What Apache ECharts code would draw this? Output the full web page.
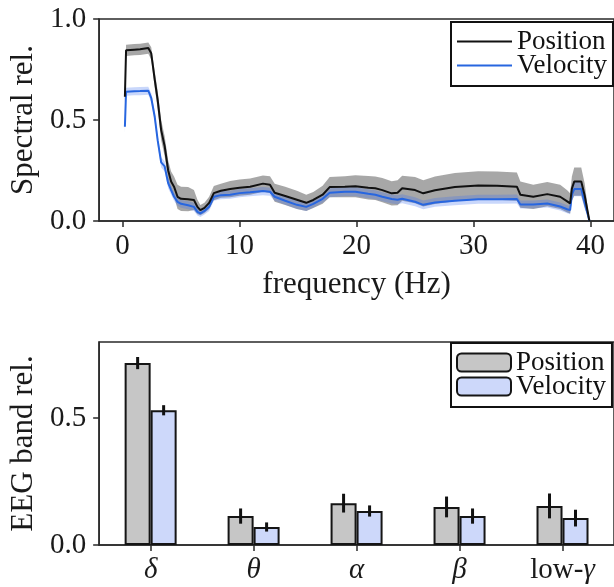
<!DOCTYPE html>
<html><head><meta charset="utf-8">
<script src="https://cdn.jsdelivr.net/npm/echarts@6/dist/echarts.min.js"></script>
<style>html,body{margin:0;padding:0;background:#fff}#c{width:614px;height:587px}</style>
</head><body><div id="c"></div>
<script>
// ---- Top panel: spectral relevance ----
const freq = [0.2,0.3,1.0,1.5,2.2,2.45,2.75,3.0,3.3,3.6,3.9,4.15,4.4,4.7,5.0,5.6,6.1,6.4,6.65,7.0,7.4,7.8,8.4,9.2,10.0,10.9,12.0,12.6,13.0,13.9,14.9,15.7,16.3,17.1,17.7,19.0,19.9,21.0,21.6,22.2,23.0,23.5,23.9,25.0,25.7,26.7,28.4,30.4,32.0,33.7,34.0,35.1,36.3,37.4,38.0,38.25,38.4,38.6,39.2,39.5,39.9];
const posMean = [0.615,0.845,0.848,0.85,0.856,0.83,0.70,0.60,0.45,0.37,0.25,0.195,0.17,0.12,0.11,0.108,0.104,0.07,0.054,0.065,0.09,0.138,0.15,0.158,0.165,0.17,0.185,0.18,0.14,0.124,0.105,0.09,0.104,0.13,0.168,0.17,0.172,0.165,0.162,0.153,0.137,0.14,0.162,0.153,0.137,0.152,0.168,0.176,0.175,0.17,0.13,0.12,0.133,0.12,0.097,0.087,0.16,0.195,0.195,0.125,0.0];
const posErr = [0.03,0.028,0.028,0.028,0.028,0.03,0.04,0.045,0.05,0.05,0.05,0.05,0.05,0.06,0.06,0.06,0.05,0.035,0.025,0.025,0.03,0.035,0.035,0.04,0.04,0.04,0.04,0.042,0.045,0.045,0.045,0.04,0.04,0.045,0.05,0.052,0.055,0.058,0.058,0.06,0.06,0.062,0.062,0.065,0.065,0.068,0.07,0.07,0.07,0.07,0.065,0.06,0.06,0.06,0.055,0.05,0.06,0.07,0.07,0.06,0.0];
const velMean = [0.467,0.64,0.642,0.643,0.645,0.61,0.516,0.40,0.29,0.27,0.187,0.153,0.12,0.095,0.085,0.078,0.07,0.045,0.038,0.05,0.07,0.12,0.128,0.13,0.138,0.142,0.148,0.145,0.12,0.10,0.08,0.07,0.085,0.11,0.14,0.145,0.145,0.135,0.13,0.12,0.109,0.105,0.11,0.095,0.08,0.092,0.10,0.108,0.108,0.109,0.082,0.082,0.087,0.072,0.058,0.054,0.13,0.158,0.158,0.09,0.0];
const velErr = [0.03,0.02,0.02,0.02,0.02,0.022,0.025,0.025,0.025,0.025,0.025,0.022,0.02,0.02,0.02,0.02,0.02,0.018,0.018,0.018,0.02,0.02,0.02,0.02,0.02,0.02,0.02,0.02,0.02,0.02,0.02,0.02,0.02,0.02,0.022,0.022,0.022,0.022,0.022,0.022,0.022,0.022,0.022,0.022,0.022,0.022,0.022,0.022,0.022,0.022,0.02,0.02,0.02,0.02,0.02,0.02,0.03,0.035,0.035,0.03,0.0];
const freqTicks = [0,10,20,30,40];
const specTicks = [0,0.5,1.0];

// ---- Bottom panel: EEG band relevance ----
const bands = ['δ','θ','α','β','low-γ'];
const bandPos = [0.717,0.114,0.165,0.15,0.154];
const bandPosErr = [0.024,0.03,0.037,0.041,0.049];
const bandVel = [0.531,0.071,0.134,0.114,0.106];
const bandVelErr = [0.02,0.018,0.022,0.03,0.033];
const bandTicks = [0,0.5];

const FONT = 'Liberation Serif';
const FS = 29;
const AX = '#2a2a2a';
const BAR_W = 26;

const chart = echarts.init(document.getElementById('c'), null, {renderer:'canvas'});

function bandSeries(mean, err, color, z) {
  return {
    type:'custom', xAxisIndex:0, yAxisIndex:0, silent:true, z:z, clip:true,
    data:[[freq[0], mean[0]]],
    renderItem(params, api){
      const up=[], lo=[];
      for (let i=0;i<freq.length;i++){
        up.push(api.coord([freq[i], mean[i]+err[i]]));
        lo.push(api.coord([freq[i], Math.max(0, mean[i]-err[i])]));
      }
      return {type:'polygon', shape:{points: up.concat(lo.reverse())}, style:{fill:color}};
    }
  };
}
function errSeries(vals, errs, side) {
  return {
    type:'custom', xAxisIndex:1, yAxisIndex:1, z:6, silent:true,
    data: vals.map((v,i)=>[i, v, errs[i]]),
    renderItem(params, api){
      const i=api.value(0), v=api.value(1), e=api.value(2);
      const off = side*BAR_W/2;
      const t = api.coord([i, v+e]), b = api.coord([i, v-e]);
      return {type:'line', shape:{x1:t[0]+off, y1:t[1], x2:t[0]+off, y2:b[1]}, style:{stroke:'#111', lineWidth:3}};
    }
  };
}
const txt = {fontFamily:FONT, fontSize:FS, color:'#1a1a1a'};
const axLine = {show:true, onZero:false, lineStyle:{color:AX, width:1.5}};
const axTick = {show:true, length:6, lineStyle:{color:AX, width:1.5}};

const option = {
  backgroundColor:'#fff',
  animation:false,
  grid:[
    {left:97, top:19, width:520, height:202, show:true, borderColor:AX, borderWidth:1.5, backgroundColor:'transparent'},
    {left:97, top:342, width:522, height:203, show:true, borderColor:AX, borderWidth:1.5, backgroundColor:'transparent'}
  ],
  legend:[
    {data:['Position','Velocity'], orient:'vertical', left:451, top:22, padding:[6,6,7,5],
     itemWidth:55, itemHeight:18, itemGap:-3, borderColor:'#111', borderWidth:2, backgroundColor:'#fff',
     itemStyle:{opacity:0},
     textStyle:{fontFamily:FONT, fontSize:27, color:'#111', lineHeight:24}, z:20},
    {data:['bandPosition','bandVelocity'], orient:'vertical', left:451, top:343, padding:[6,6,7,5],
     itemWidth:54, itemHeight:18, itemGap:-3, borderColor:'#111', borderWidth:2, backgroundColor:'#fff',
     formatter: n => n.replace('band',''),
     textStyle:{fontFamily:FONT, fontSize:27, color:'#111', lineHeight:24}, z:20}
  ],
  xAxis:[
    {gridIndex:0, type:'value', min:-2, max:42,
     name:'frequency (Hz)', nameLocation:'middle', nameGap:48, nameTextStyle:{fontFamily:FONT, fontSize:31, color:'#1a1a1a'},
     axisLine:axLine, axisTick:Object.assign({customValues:freqTicks}, axTick),
     axisLabel:Object.assign({customValues:freqTicks, margin:11}, txt),
     splitLine:{show:false}},
    {gridIndex:1, type:'category', data:bands, boundaryGap:true,
     axisLine:axLine, axisTick:Object.assign({alignWithLabel:true}, axTick),
     axisLabel:{interval:0, margin:11, fontFamily:FONT, fontSize:FS, color:'#1a1a1a', fontStyle:'italic',
       formatter: v => v.startsWith('low-') ? '{n|low-}{i|' + v.slice(4) + '}' : v,
       rich:{n:{fontFamily:FONT, fontSize:FS, fontStyle:'normal', color:'#1a1a1a'}, i:{fontFamily:FONT, fontSize:FS, fontStyle:'italic', color:'#1a1a1a'}}},
     splitLine:{show:false}}
  ],
  yAxis:[
    {gridIndex:0, type:'value', min:0, max:1,
     name:'Spectral rel.', nameLocation:'middle', nameRotate:90, nameGap:57, nameTextStyle:{fontFamily:FONT, fontSize:31, color:'#1a1a1a'},
     axisLine:axLine, axisTick:Object.assign({customValues:specTicks}, axTick),
     axisLabel:Object.assign({customValues:specTicks, margin:13, formatter:v=>v.toFixed(1)}, txt),
     splitLine:{show:false}},
    {gridIndex:1, type:'value', min:0, max:0.8,
     name:'EEG band rel.', nameLocation:'middle', nameRotate:90, nameGap:57, nameTextStyle:{fontFamily:FONT, fontSize:31, color:'#1a1a1a'},
     axisLine:axLine, axisTick:Object.assign({customValues:bandTicks}, axTick),
     axisLabel:Object.assign({customValues:bandTicks, margin:13, formatter:v=>v.toFixed(1)}, txt),
     splitLine:{show:false}}
  ],
  series:[
    bandSeries(posMean, posErr, 'rgba(60,60,60,0.45)', 1),
    bandSeries(velMean, velErr, 'rgba(60,110,240,0.28)', 2),
    {name:'Position', type:'line', xAxisIndex:0, yAxisIndex:0, data:freq.map((f,i)=>[f,posMean[i]]),
     symbol:'none', lineStyle:{color:'#111', width:2}, itemStyle:{color:'#111'}, z:4},
    {name:'Velocity', type:'line', xAxisIndex:0, yAxisIndex:0, data:freq.map((f,i)=>[f,velMean[i]]),
     symbol:'none', lineStyle:{color:'#2766e0', width:2}, itemStyle:{color:'#2766e0'}, z:3},
    {name:'bandPosition', type:'bar', xAxisIndex:1, yAxisIndex:1, data:bandPos, barWidth:BAR_W, barGap:'0%',
     itemStyle:{color:'#c6c6c6', borderColor:'#151515', borderWidth:2}},
    {name:'bandVelocity', type:'bar', xAxisIndex:1, yAxisIndex:1, data:bandVel, barWidth:BAR_W, barGap:'0%',
     itemStyle:{color:'#cdd8fa', borderColor:'#151515', borderWidth:2}},
    errSeries(bandPos, bandPosErr, -1),
    errSeries(bandVel, bandVelErr, 1)
  ]
};
chart.setOption(option);
</script></body></html>
